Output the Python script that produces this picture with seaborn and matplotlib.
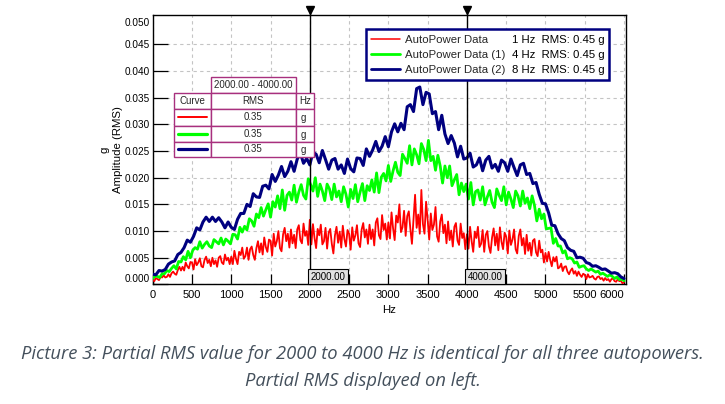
import numpy as np
import pandas as pd
import matplotlib
matplotlib.use("Agg")
import matplotlib.pyplot as plt
import seaborn as sns
from matplotlib.patches import Rectangle
from matplotlib.lines import Line2D

# ---------------- data (amplitudes in milli-g) ----------------
red_step_hz = 20     # "1 Hz" curve, read every 20 Hz
green_step_hz = 30   # "4 Hz" curve, read every 30 Hz
blue_step_hz = 40    # "8 Hz" curve, read every 40 Hz

red_mg = [
    0.9, 0.6, 1.2, 1.0, 0.8, 1.4, 1.3, 1.7, 1.3, 1.4,
    1.9, 1.4, 2.1, 2.4, 2.0, 1.8, 2.7, 3.3, 2.6, 3.3,
    2.6, 4.1, 3.4, 3.0, 4.2, 4.1, 2.8, 4.7, 3.6, 4.1,
    4.9, 3.4, 3.2, 4.6, 5.2, 4.0, 4.6, 3.4, 5.0, 3.8,
    4.5, 3.3, 5.0, 5.3, 4.1, 3.8, 5.6, 4.5, 5.0, 3.8,
    5.2, 3.8, 6.3, 4.8, 3.8, 6.1, 5.5, 6.9, 4.8, 5.3,
    6.9, 4.6, 6.6, 7.1, 5.5, 4.6, 6.8, 8.1, 6.0, 7.7,
    5.6, 8.8, 7.0, 6.1, 8.4, 8.2, 5.4, 9.5, 7.1, 8.1,
    10.0, 6.8, 6.2, 9.4, 10.6, 8.1, 9.5, 6.9, 10.3, 7.7,
    9.3, 6.8, 10.3, 11.1, 8.3, 7.7, 11.4, 9.1, 10.0, 7.4,
    12.1, 7.5, 11.3, 8.7, 6.8, 10.4, 9.2, 11.2, 7.5, 8.1,
    10.6, 6.7, 9.7, 10.4, 7.6, 5.8, 9.2, 10.8, 7.8, 9.9,
    6.9, 11.0, 8.5, 7.1, 10.2, 9.5, 6.5, 10.7, 8.2, 9.2,
    11.1, 7.7, 7.0, 10.3, 11.5, 8.8, 10.3, 7.6, 11.2, 8.5,
    10.3, 7.3, 11.6, 12.4, 9.2, 8.5, 13.0, 10.2, 11.4, 8.4,
    11.6, 8.6, 13.5, 10.5, 8.3, 12.9, 11.6, 15.0, 9.8, 10.7,
    13.8, 9.1, 12.8, 13.7, 10.4, 7.6, 12.3, 16.8, 10.6, 13.1,
    9.5, 17.7, 11.3, 9.5, 15.5, 12.1, 8.4, 13.3, 10.2, 11.2,
    14.5, 9.0, 8.0, 11.8, 13.1, 9.6, 11.2, 7.7, 11.8, 8.3,
    10.1, 7.1, 10.8, 11.5, 8.2, 7.4, 11.4, 8.7, 9.6, 6.6,
    9.4, 6.7, 10.8, 8.1, 6.1, 9.9, 8.7, 10.8, 7.0, 7.6,
    10.2, 6.1, 9.3, 10.0, 7.1, 5.9, 8.8, 10.5, 7.3, 9.5,
    6.4, 10.7, 8.0, 6.6, 9.7, 8.9, 5.8, 10.1, 7.4, 8.4,
    10.3, 6.6, 5.8, 9.1, 10.3, 7.3, 8.7, 5.7, 9.3, 6.3,
    7.8, 5.4, 8.2, 8.5, 6.0, 5.3, 8.2, 6.0, 6.5, 4.1,
    5.9, 4.3, 6.1, 4.6, 3.4, 5.1, 4.3, 5.2, 3.0, 3.2,
    3.9, 2.5, 3.3, 3.4, 2.4, 1.9, 2.6, 3.0, 2.0, 2.5,
    1.6, 2.4, 1.8, 1.4, 2.0, 1.8, 1.0, 1.9, 1.3, 1.4,
    1.6, 1.1, 0.9, 1.4, 1.5, 1.0, 1.2, 0.7, 1.2, 0.8,
    1.0, 0.5, 1.0, 1.1, 0.6, 0.5, 1.0, 0.6, 0.7, 0.2,
    0.4,
]

green_mg = [
    1.1, 1.6, 1.5, 1.3, 2.0, 2.0, 2.6, 2.4, 3.0, 3.5,
    2.9, 4.3, 4.2, 5.2, 4.6, 6.2, 5.0, 6.4, 6.9, 6.6,
    8.0, 6.8, 7.5, 8.0, 7.2, 6.9, 8.4, 8.0, 7.6, 8.7,
    7.4, 8.5, 8.1, 7.6, 9.4, 9.3, 8.5, 10.7, 9.8, 10.9,
    10.2, 12.3, 11.9, 10.9, 13.2, 12.5, 14.4, 12.8, 14.0, 15.1,
    12.6, 15.5, 14.5, 16.6, 14.2, 17.7, 13.9, 16.7, 17.3, 15.8,
    18.6, 15.4, 17.3, 18.7, 16.7, 16.0, 19.8, 18.7, 17.5, 20.0,
    16.5, 18.8, 17.5, 15.7, 18.8, 17.9, 15.9, 18.8, 16.4, 17.5,
    15.5, 18.3, 16.9, 14.5, 17.8, 16.1, 18.7, 15.5, 17.3, 18.9,
    15.7, 18.5, 17.6, 19.6, 17.3, 20.9, 17.2, 20.1, 20.8, 19.4,
    22.3, 19.3, 21.3, 22.9, 21.0, 20.4, 24.4, 23.6, 22.7, 26.0,
    22.4, 25.4, 24.3, 22.6, 26.4, 25.3, 23.2, 27.0, 23.2, 24.0,
    21.4, 24.2, 22.2, 19.0, 22.2, 20.0, 22.2, 18.5, 19.6, 20.6,
    16.8, 19.0, 17.4, 18.8, 16.0, 19.1, 14.9, 17.4, 17.7, 15.8,
    18.3, 14.9, 16.4, 17.6, 15.4, 14.4, 17.9, 16.7, 15.7, 18.3,
    14.9, 17.3, 16.0, 14.4, 17.5, 16.6, 14.7, 17.5, 15.2, 16.2,
    14.2, 16.6, 14.8, 11.9, 14.1, 12.3, 13.2, 10.4, 10.5, 10.6,
    7.7, 8.6, 7.2, 7.2, 5.9, 6.3, 4.8, 5.0, 4.8, 4.0,
    4.2, 3.2, 3.4, 3.5, 2.9, 2.6, 2.9, 2.6, 2.3, 2.5,
    1.9, 2.1, 1.8, 1.5, 1.8, 1.5, 1.1, 1.4, 0.9, 1.0,
    0.7,
]

blue_mg = [
    1.9, 1.8, 2.6, 2.5, 2.8, 3.8, 4.2, 4.4, 5.6, 6.0,
    6.9, 8.3, 7.9, 9.0, 10.6, 10.2, 11.7, 12.6, 11.8, 12.6,
    11.8, 12.5, 11.7, 10.6, 11.7, 10.7, 10.3, 12.2, 13.3, 13.3,
    15.0, 14.6, 17.0, 16.4, 16.3, 18.4, 18.6, 17.9, 20.6, 19.3,
    20.5, 22.1, 20.2, 21.2, 23.0, 21.2, 23.5, 24.6, 22.7, 23.6,
    22.4, 24.8, 24.4, 22.8, 25.1, 23.4, 21.6, 23.3, 23.6, 21.6,
    22.4, 20.8, 23.5, 21.7, 21.1, 23.7, 23.6, 22.3, 25.4, 24.0,
    25.2, 26.8, 24.9, 25.9, 27.7, 25.8, 28.6, 30.1, 28.6, 30.2,
    29.0, 33.3, 33.7, 32.4, 36.7, 37.0, 33.7, 36.0, 35.7, 32.0,
    32.4, 29.0, 31.7, 28.2, 26.4, 27.9, 26.5, 23.9, 25.9, 23.5,
    23.7, 24.6, 22.0, 22.4, 23.7, 21.3, 23.3, 24.0, 21.8, 22.5,
    21.2, 23.3, 22.8, 21.2, 23.5, 21.9, 20.4, 22.4, 22.7, 20.6,
    20.8, 18.9, 19.1, 16.9, 15.2, 15.1, 13.4, 11.1, 11.0, 9.5,
    8.6, 8.2, 6.9, 6.4, 6.2, 5.0, 5.1, 4.9, 4.1, 3.9,
    3.4, 3.5, 3.2, 2.8, 2.9, 2.5, 2.1, 2.2, 2.0, 1.4,
    1.1,
]

series_names = ["AutoPower Data", "AutoPower Data (1)", "AutoPower Data (2)"]
series_resolution = ["1 Hz", "4 Hz", "8 Hz"]
series_rms = ["RMS: 0.45 g", "RMS: 0.45 g", "RMS: 0.45 g"]
series_colors = ["#ff0000", "#00ff00", "#000080"]
series_widths = [1.3, 2.0, 2.2]
legend_widths = [1.1, 2.0, 2.0]

cursor_hz = [2000, 4000]
cursor_labels = ["2000.00", "4000.00"]

table_range = "2000.00 - 4000.00"
table_header = ["Curve", "RMS", "Hz"]
table_rms = ["0.35", "0.35", "0.35"]
table_unit = ["g", "g", "g"]

x_ticks = [0, 500, 1000, 1500, 2000, 2500, 3000, 3500, 4000, 4500, 5000, 5500, 6000]
y_ticks = [0.000, 0.005, 0.010, 0.015, 0.020, 0.025, 0.030, 0.035, 0.040, 0.045, 0.050]

caption = ["Picture 3: Partial RMS value for 2000 to 4000 Hz is identical for all three autopowers.",
           "Partial RMS displayed on left."]

# ---------------- style ----------------
sns.set_theme(style="white")
plt.rcParams["font.family"] = ["Liberation Sans", "DejaVu Sans"]

W, H = 725, 404
fig = plt.figure(figsize=(W / 100, H / 100), dpi=100)
fig.patch.set_facecolor("white")


def fx(px):
    return px / W


def fy(py):
    return 1 - py / H


L, R, T, B = 152.7, 626.0, 15.0, 284.4
ax = fig.add_axes([fx(L), fy(B), fx(R) - fx(L), fy(T) - fy(B)])
ax.set_facecolor("white")

steps = [red_step_hz, green_step_hz, blue_step_hz]
values = [red_mg, green_mg, blue_mg]
for name, step, vals, col, lw in zip(series_names, steps, values, series_colors, series_widths):
    df = pd.DataFrame({"Hz": np.arange(len(vals)) * step, "g": np.asarray(vals) / 1000.0})
    sns.lineplot(data=df, x="Hz", y="g", color=col, linewidth=lw, ax=ax,
                 estimator=None, legend=False, zorder=3)
curve_lines = list(ax.lines[:3])

ax.set_xlim(0, 6025)
ax.set_ylim(0, 0.0505)

ax.set_xticks(x_ticks)
ax.set_xticklabels([str(t) for t in x_ticks])
ax.set_yticks(y_ticks)
ax.set_yticklabels([f"{t:.3f}" for t in y_ticks])

ax.set_axisbelow(True)
ax.grid(True, color="#c4c4c4", linestyle=(0, (3, 3)), linewidth=0.8)
for s in ax.spines.values():
    s.set_visible(True)
    s.set_color("black")
    s.set_linewidth(1.0)

ax.tick_params(axis="y", which="major", direction="in", length=10.5, width=0.9,
               colors="black", labelsize=7.2, pad=2, left=True, right=False)
ax.tick_params(axis="x", which="major", direction="in", length=7.5, width=0.9,
               colors="black", labelsize=8, pad=4, bottom=True, top=False)

ytl = ax.get_yticklabels()
ytl[0].set_va("bottom")
ytl[-1].set_va("top")
ax.get_xticklabels()[-1].set_ha("right")
ax.yaxis.get_major_ticks()[-1].tick1line.set_visible(False)
ax.yaxis.get_major_ticks()[-1].gridline.set_visible(False)

ax.set_xlabel("Hz", fontsize=8.2, color="black")
ax.xaxis.set_label_coords(0.5, (B - 305) / (B - T))
ax.set_ylabel("g\nAmplitude (RMS)", fontsize=8.2, color="black", linespacing=1.45)
ax.yaxis.set_label_coords((123 - L) / (R - L), 0.5)

# cursors
for hz, lab in zip(cursor_hz, cursor_labels):
    ax.axvline(hz, ymin=0, ymax=1 + 8 / (B - T), color="black", lw=1.0, clip_on=False, zorder=6)
    ax.plot([hz], [1 + 5 / (B - T)], marker="v", ms=6, color="black",
            transform=ax.get_xaxis_transform(), clip_on=False, zorder=7)
    ax.annotate(lab, xy=(hz, 0), xycoords=("data", "axes fraction"),
                xytext=(0.3, 1.8), textcoords="offset points", ha="left", va="bottom",
                fontsize=7, color="black", zorder=8,
                bbox=dict(boxstyle="square,pad=0.25", fc="#e3e3e3", ec="black", lw=0.8))

# legend (top right)
leg = ax.legend(handles=curve_lines, labels=series_names, loc="upper left",
                bbox_to_anchor=(fx(365.7), fy(80), fx(609) - fx(365.7), fy(29.3) - fy(80)),
                bbox_transform=fig.transFigure, mode="expand", borderaxespad=0,
                fancybox=False, frameon=True, edgecolor="#000080", facecolor="white",
                framealpha=1, fontsize=8.2, handlelength=2.5, handletextpad=0.45,
                borderpad=0.5, labelspacing=0.42)
leg.get_frame().set_linewidth(1.8)
leg.set_zorder(10)
for hl, lw in zip(leg.get_lines(), legend_widths):
    hl.set_linewidth(lw)

fig.canvas.draw()
inv = fig.transFigure.inverted()
for t, res, rms in zip(leg.get_texts(), series_resolution, series_rms):
    bb = t.get_window_extent()
    y0 = inv.transform((0, bb.y0))[1]
    fig.text(fx(511.7), y0, f"{res}  {rms}", ha="left", va="bottom", fontsize=8.2,
             color="black", zorder=11)

# partial RMS table (top left)
tcol = "#a8307e"
cols = [174.3, 210.7, 295.7, 314.3]
rows = [93.3, 109.3, 125.7, 141.7, 156.7]


def cell(x0, y0, x1, y1):
    fig.add_artist(Rectangle((fx(x0), fy(y1)), fx(x1) - fx(x0), fy(y0) - fy(y1),
                             transform=fig.transFigure, fc="white", ec=tcol, lw=1.0, zorder=12))


cell(cols[1], 77.3, cols[2], rows[0])
for r in range(4):
    for c in range(3):
        cell(cols[c], rows[r], cols[c + 1], rows[r + 1])

tfs = 7
fig.text(fx((cols[1] + cols[2]) / 2), fy((77.3 + rows[0]) / 2), table_range, ha="center",
         va="center", fontsize=tfs, zorder=13)
for c, h in enumerate(table_header):
    fig.text(fx((cols[c] + cols[c + 1]) / 2), fy((rows[0] + rows[1]) / 2), h, ha="center",
             va="center", fontsize=tfs, zorder=13)
for i in range(3):
    yc = (rows[i + 1] + rows[i + 2]) / 2
    fig.add_artist(Line2D([fx(178), fx(206.7)], [fy(yc), fy(yc)], transform=fig.transFigure,
                          color=series_colors[i], lw=legend_widths[i] + 0.3, zorder=13))
    fig.text(fx((cols[1] + cols[2]) / 2), fy(yc), table_rms[i], ha="center", va="center",
             fontsize=tfs, zorder=13)
    fig.text(fx(303), fy(yc + 1), table_unit[i], ha="center", va="center", fontsize=tfs, zorder=13)

# caption
cap_color = "#44505c"
fig.text(0.5, fy(354), caption[0], ha="center", va="center", fontsize=13.2, style="italic",
         family=["Open Sans", "DejaVu Sans"], color=cap_color)
fig.text(0.5, fy(381), caption[1], ha="center", va="center", fontsize=13.2, style="italic",
         family=["Open Sans", "DejaVu Sans"], color=cap_color)

fig.savefig("out.png", dpi=100, facecolor="white")
